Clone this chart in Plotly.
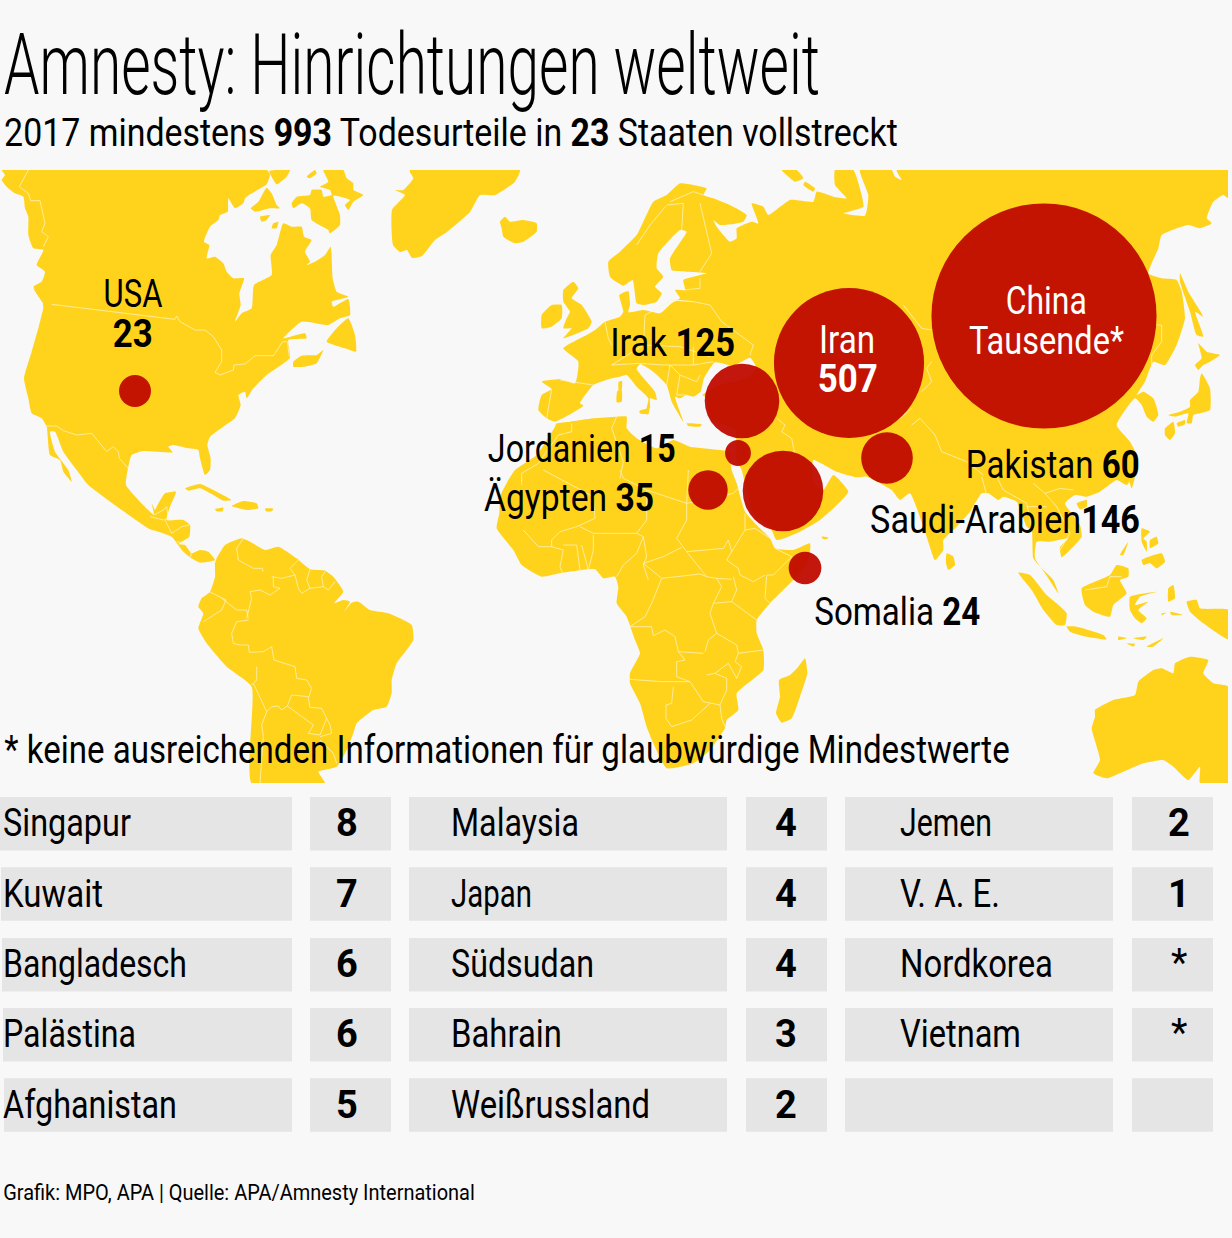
import json
import plotly.graph_objects as go

# ---------- data ----------
bubble_names = ["USA", "Irak", "Iran", "China", "Pakistan", "Jordanien", "Saudi-Arabien", "Ägypten", "Somalia"]
bubble_values = [23, 125, 507, 1140, 60, 15, 146, 35, 24]  # China: "Tausende", size
bubble_x = [135, 742, 849, 1044, 887, 738, 783, 708, 805]
bubble_y = [391, 401, 363, 316, 458, 453, 491, 490, 568]

col1_names = ["Singapur", "Kuwait", "Bangladesch", "Palästina", "Afghanistan"]
col1_values = ["8", "7", "6", "6", "5"]
col1_widths = [128, 100, 184, 133, 174]
col2_names = ["Malaysia", "Japan", "Südsudan", "Bahrain", "Weißrussland"]
col2_values = ["4", "4", "4", "3", "2"]
col2_widths = [128, 81, 143, 111, 199]
col3_names = ["Jemen", "V. A. E.", "Nordkorea", "Vietnam", ""]
col3_values = ["2", "1", "*", "*", ""]
col3_widths = [92, 100, 153, 121, 0]

TITLE = "Amnesty: Hinrichtungen weltweit"
SUBTITLE = "2017 mindestens <b>993</b> Todesurteile in <b>23</b> Staaten vollstreckt"
NOTE = "* keine ausreichenden Informationen für glaubwürdige Mindestwerte"
SOURCE = "Grafik: MPO, APA | Quelle: APA/Amnesty International"

# ---------- map outlines in crop coordinates ----------
def A(pts): return [(x / 3, 165 + y / 3) for x, y in pts]          # north america crop
def B(pts): return [(150 + x / 3, 470 + y / 3) for x, y in pts]    # south america crop
def C(pts): return [(480 + x / 3, 165 + y / 3) for x, y in pts]    # europe crop
def D(pts): return [(860 + x / 3, 165 + y / 3) for x, y in pts]    # east asia crop
def E(pts): return [(480 + x / 3, 470 + y / 3) for x, y in pts]    # africa crop
def F(pts): return [(860 + x / 3, 470 + y / 3) for x, y in pts]    # south east asia crop

north_america = A([(5,15),(800,15),(810,28),(800,58),(750,88),(735,100),(730,115),(705,130),(685,100),(683,140),(660,150),(655,165),(630,185),(612,230),(628,240),(620,280),(645,275),(670,295),(680,320),(700,340),(732,340),(718,385),(722,420),(705,470),(725,445),(755,430),(762,360),(815,330),(812,270),(830,240),(850,175),(875,185),(905,185),(912,215),(935,225),(915,260),(930,290),(920,300),(945,290),(975,270),(992,245),(998,340),(1010,380),(1045,395),(995,410),(1000,425),(1045,402),(1050,450),(1020,460),(985,480),(905,470),(850,520),(915,505),(920,520),(865,525),(870,578),(800,630),(760,670),(740,700),(735,680),(715,690),(722,720),(705,760),(670,785),(630,815),(622,840),(632,880),(630,915),(615,930),(600,880),(595,855),(565,850),(520,840),(505,845),(518,862),(430,858),(395,870),(385,905),(378,960)]) \
    + B([(12,135),(5,100),(15,120),(20,110),(45,70),(78,65),(60,110),(50,150),(100,150),(120,165),(118,200),(85,222),(105,225),(125,250),(150,240),(175,245),(195,270),(150,278),(125,265),(100,245),(65,200),(25,185),(0,178)]) \
    + A([(265,960),(230,915),(190,860),(165,800),(150,800),(165,860),(205,915),(215,950),(190,920),(180,885),(150,870),(140,785),(125,760),(95,745),(85,700),(72,640),(95,560),(115,490),(125,450),(130,430),(125,395),(100,365),(125,350),(135,320),(110,300),(130,255),(100,250),(85,210),(85,155),(75,130),(70,95),(45,85),(20,65),(5,45),(15,30)])
arctic_a = A([(970,15),(1030,15),(1040,40),(1060,55),(1060,75),(1090,90),(1060,110),(1045,135),(1035,120),(1050,105),(1000,92),(1020,150),(1020,180),(1010,190),(990,205),(975,155),(990,195),(935,165),(930,130),(905,115),(880,130),(875,115),(890,95),(930,90),(935,75),(965,75),(970,95),(995,90),(990,75),(960,65),(985,50)])
arctic_b = A([(752,130),(775,110),(800,68),(815,85),(830,120),(840,130),(810,130),(790,135),(765,140)])
arctic_c = A([(808,18),(870,15),(860,35),(830,58),(815,35)])
arctic_d = A([(920,35),(945,15),(950,25),(930,40)])
arctic_e = A([(740,55),(760,55),(770,75),(755,72)])
arctic_f = A([(780,155),(810,150),(800,165),(785,170)])
arctic_g = A([(820,175),(835,170),(830,190),(815,190)])
newfoundland = A([(1045,460),(1065,510),(1068,560),(1035,550),(980,530),(1010,490)])
nova_scotia = A([(880,590),(905,572),(950,570),(970,555),(950,595),(915,605),(880,605)])
vancouver = A([(100,370),(135,395),(148,425),(130,415)])
greenland = C([(-210,22),(-200,40),(-230,75),(-255,75),(-225,90),(-264,135),(-261,240),(-240,261),(-219,255),(-204,279),(-174,273),(-135,225),(-99,201),(-30,141),(0,90),(45,90),(105,50),(120,15),(-210,15)])
iceland = C([(60,170),(75,155),(90,170),(130,165),(170,175),(170,200),(130,230),(105,235),(70,215),(65,190)])
svalbard = C([(905,15),(950,15),(970,40),(945,50)])
zemlya = C([(975,50),(1005,70),(1000,80),(970,60)])
south_america = B([(200,265),(225,225),(275,205),(300,215),(345,240),(385,230),(440,265),(480,298),(525,302),(550,320),(580,365),(552,400),(580,390),(600,395),(582,425),(605,398),(625,395),(660,420),(715,430),(785,465),(790,510),(740,580),(725,630),(725,670),(710,710),(670,720),(620,760),(610,790),(590,840),(560,890),(505,905),(525,940),(305,940),(305,650),(230,590),(170,520),(145,475),(160,430),(145,410),(155,385),(180,365),(195,320),(195,280)])
cuba = B([(105,55),(150,42),(200,65),(245,90),(220,92),(190,75),(150,55),(115,62)])
hispaniola = B([(245,108),(280,93),(320,100),(325,115),(290,120)])
jamaica = B([(195,118),(220,113),(218,124),(200,124)])
puerto_rico = B([(345,116),(370,116),(365,124),(348,124)])
eurasia = C([(225,770),(200,760),(175,735),(185,690),(215,672),(185,650),(240,643),(285,655),(295,590),(250,550),(320,510),(345,495),(375,470),(420,455),(430,440),(418,390),(445,378),(450,420),(445,442),(490,435),(540,445),(575,415),(600,400),(585,375),(615,375),(610,345),(680,325),(620,320),(575,315),(570,280),(620,200),(600,195),(535,265),(530,310),(550,335),(525,365),(545,385),(530,410),(490,420),(470,415),(458,345),(430,362),(390,335),(385,290),(420,260),(470,210),(490,170),(520,110),(560,90),(600,55),(640,60),(680,70),(670,90),(700,100),(760,125),(800,150),(790,170),(720,180),(700,165),(710,185),(750,230),(770,220),(770,190),(815,170),(835,175),(815,115),(850,125),(865,150),(930,105),(1000,110),(1010,80),(1060,95),(1100,100),(1065,60),(1065,15),(1120,15),(1145,90),(1150,125),(1090,145),(1155,152),(1165,90),(1140,15)]) \
    + D([(95,15),(105,35),(125,45),(110,15),(1105,15),(1105,100),(1090,90),(1060,110),(1040,160),(1055,175),(1020,190),(985,180),(905,210),(895,250),(865,325),(905,340),(950,345),(965,380),(975,460),(950,540),(915,600),(880,590),(870,610),(855,650),(830,690),(850,680),(880,700),(895,750),(880,770),(860,755),(845,720),(825,700),(770,780),(810,830),(830,870),(825,920),(800,960)]) \
    + F([(770,30),(720,65),(680,80),(645,75),(615,100),(660,165),(665,200),(630,240),(605,262),(600,232),(625,205),(570,215),(530,215),(525,265),(555,310),(595,370),(580,330),(545,295),(520,265),(515,180),(500,170),(470,95),(430,80),(415,90),(385,70),(365,70),(330,125),(290,170),(250,210),(250,240),(225,270),(200,200),(150,70),(120,90),(95,60)]) \
    + E([(1160,20),(1130,22),(1070,5),(1000,-30),(1000,40),(1030,60),(1060,15),(1105,65),(1060,115),(1020,150),(960,185),(890,210),(870,170),(820,130),(795,40),(785,0),(770,-30)]) \
    + C([(765,795),(690,760),(680,700),(668,690),(720,660),(800,640),(830,610),(810,578),(760,602),(705,592),(672,640),(662,680),(640,695),(620,690),(600,700),(585,695),(610,770),(575,710),(560,660),(520,620),(480,597),(470,612),(525,680),(530,705),(510,700),(510,730),(498,740),(505,700),(470,665),(440,630),(420,635),(395,640),(340,660),(300,715),(310,722)])
britain = C([(250,375),(280,350),(295,370),(275,400),(305,420),(335,470),(325,490),(250,520),(275,490),(250,490),(260,460),(270,440),(250,410)])
ireland = C([(185,450),(215,420),(245,420),(245,460),(215,485),(185,490)])
sicily = C([(478,738),(508,730),(505,748),(480,745)])
sardinia = C([(412,678),(425,675),(425,710),(410,712)])
corsica = C([(416,650),(426,648),(424,680),(416,678)])
crete = C([(620,775),(665,778),(660,785),(625,783)])
africa = C([(230,775),(270,770),(340,760),(410,755),(440,755),(440,790),(470,820),(530,850),(580,825),(630,845),(720,855),(745,860)]) \
    + E([(755,0),(770,40),(795,125),(835,170),(870,205),(885,235),(940,240),(990,220),(990,245),(975,290),(930,340),(870,400),(830,450),(830,490),(850,540),(850,600),(770,670),(775,720),(740,750),(735,775),(690,840),(640,880),(560,895),(520,820),(500,770),(480,700),(450,640),(450,610),(480,550),(465,510),(440,440),(410,400),(415,350),(405,320),(370,325),(345,298),(240,310),(185,320),(125,285),(100,240),(50,175),(58,130),(60,80),(85,30),(105,0)]) \
    + C([(170,870),(225,785)])
madagascar = E([(975,565),(982,610),(960,680),(935,745),(905,758),(888,730),(900,680),(897,630),(930,615),(955,590)])
socotra = E([(1025,200),(1045,203),(1040,208),(1028,206)])
sri_lanka = F([(260,250),(280,260),(285,285),(265,300),(258,280)])
hainan = F([(650,100),(680,90),(680,110),(660,118)])
taiwan = F([(805,15),(825,15),(815,55)])
honshu = D([(1025,625),(1050,670),(1050,735),(1020,745),(1000,750),(995,775),(980,775),(985,745),(945,755),(925,750),(960,740),(990,725),(990,705),(1015,680),(1020,640)])
hokkaido = D([(1015,535),(1040,560),(1080,570),(1050,590),(1030,600),(1015,615),(1005,600),(1025,580)])
sakhalin = D([(960,325),(985,380),(1030,455),(1005,440),(1030,515),(1010,510),(990,440),(960,350)])
kyushu = D([(915,790),(940,770),(945,805),(930,825),(915,810)])
shikoku = D([(950,775),(975,765),(975,778),(955,785)])
sumatra = F([(475,308),(510,315),(560,375),(590,400),(620,430),(615,465),(590,465),(550,420),(515,360)])
java = F([(620,470),(650,470),(730,495),(740,508),(680,500),(630,485)])
sunda_a = F([(775,500),(800,505),(775,510)])
sunda_b = F([(820,505),(860,500),(850,510)])
timor = F([(860,530),(910,505),(880,530)])
sumba = F([(800,520),(825,522),(820,530)])
borneo = F([(665,355),(750,315),(770,285),(805,295),(805,320),(780,330),(800,370),(760,405),(750,440),(700,425),(675,405)])
sulawesi = F([(810,380),(890,365),(840,380),(825,405),(865,395),(835,420),(860,445),(845,460),(825,445),(810,420)])
luzon = F([(845,175),(870,185),(850,205),(860,215),(860,245),(845,215)])
mindanao = F([(845,270),(905,250),(915,275),(890,295),(870,280),(850,285)])
palawan = F([(780,255),(805,215),(790,255)])
visayas = F([(870,210),(890,200),(895,220),(870,235)])
new_guinea = F([(980,395),(1010,390),(1020,415),(1105,420),(1105,508),(1030,460),(990,425)])
halmahera = F([(925,355),(940,345),(945,385),(925,395)])
seram = F([(930,425),(970,435),(935,435)])
buru = F([(905,430),(918,428),(905,436)])
australia = F([(705,720),(760,690),(825,675),(835,635),(880,600),(905,595),(940,610),(945,580),(990,560),(1045,570),(1030,610),(1060,640),(1105,650),(1105,940),(1020,940),(1020,890),(985,930),(940,890),(910,870),(850,880),(790,905),(740,925),(700,910),(720,870),(695,775),(705,740)])

land = [north_america, arctic_a, arctic_b, arctic_c, arctic_d, arctic_e, arctic_f, arctic_g, newfoundland,
        nova_scotia, vancouver, greenland, iceland, svalbard, zemlya, south_america, cuba, hispaniola, jamaica,
        puerto_rico, eurasia, britain, ireland, sicily, sardinia, corsica, crete, africa, madagascar, socotra,
        sri_lanka, hainan, taiwan, honshu, hokkaido, sakhalin, kyushu, shikoku, sumatra, java, sunda_a, sunda_b,
        timor, sumba, borneo, sulawesi, luzon, mindanao, palawan, visayas, new_guinea, halmahera, seram, buru,
        australia]

borders = [
    A([(155,418),(525,463),(530,453),(540,470),(585,495),(615,495),(640,515),(665,555),(665,590),(645,622),(660,630),(700,615),(702,600),(735,597),(765,572),(820,572),(848,530),(862,530),(868,575)]),
    A([(85,15),(58,65),(85,85),(92,107),(120,107),(135,175),(125,200),(145,215),(130,245)]),
    A([(135,783),(170,783),(190,797),(230,810),(275,805),(320,860),(340,845),(355,860),(358,880),(385,910)]),
    B([(280,205),(260,235),(265,270),(310,295),(338,295),(338,305)]),
    B([(365,320),(395,325),(435,315),(420,295),(445,270)]),
    B([(435,315),(445,355),(455,370),(480,355),(470,330),(480,298)]),
    B([(480,355),(520,350),(515,320),(525,305)]),
    B([(520,350),(535,360),(555,335)]),
    B([(370,320),(370,350),(390,355),(360,375),(330,360),(300,365),(305,385),(290,445)]),
    B([(178,365),(215,385),(228,390),(215,420),(160,455)]),
    B([(215,385),(260,420),(290,420),(295,445)]),
    B([(295,450),(260,455),(245,490),(250,520),(270,525),(295,525),(298,547),(340,545),(365,530),(372,570),(435,590),(440,625),(470,630),(485,655),(475,685)]),
    B([(320,590),(320,630),(305,645)]),
    B([(310,640),(350,725),(335,765),(340,800),(330,940)]),
    B([(350,725),(365,710),(385,708),(395,720),(412,708),(425,675),(475,680)]),
    B([(412,708),(490,765),(475,790),(510,795),(530,745),(515,715),(480,712),(475,685)]),
    B([(510,800),(545,790),(540,765),(530,745)]),
    B([(510,810),(550,850),(560,880)]),
    B([(12,135),(40,120),(50,110),(55,145),(40,150),(0,140)]),
    B([(45,150),(65,190),(95,170),(118,165)]),
    B([(80,215),(110,220),(125,235),(122,262)]),
    E([(190,0),(300,60),(340,80),(345,145),(290,170),(240,185),(215,210),(215,230)]),
    E([(420,0),(430,25),(500,60),(620,100),(620,150),(590,205),(620,245),(680,320)]),
    E([(620,100),(760,70),(775,55)]),
    E([(620,100),(625,0)]),
    E([(500,60),(500,150),(470,190),(340,190),(300,170)]),
    E([(605,232),(550,260),(490,280),(545,325),(590,320),(660,312),(680,320),(710,325),(755,328)]),
    E([(470,190),(490,200),(500,260),(490,285),(505,330)]),
    E([(620,245),(690,240),(730,235),(745,210),(755,245),(740,270),(775,295),(780,315),(820,335),(855,315)]),
    E([(795,130),(795,180),(755,245)]),
    E([(795,180),(825,175),(870,205)]),
    E([(885,235),(935,260),(880,315),(860,315),(855,385),(870,400)]),
    E([(755,395),(830,450)]),
    E([(760,320),(770,360),(755,395),(700,400),(725,350),(710,325)]),
    E([(545,325),(515,400),(495,440),(450,470),(515,470),(520,497),(555,480),(585,500),(595,545),(670,550)]),
    E([(700,400),(690,430),(710,490),(685,510),(675,545)]),
    E([(710,490),(770,525),(775,550),(850,540)]),
    E([(595,545),(615,570),(590,575),(590,620),(630,635),(545,635),(450,628)]),
    E([(630,635),(670,695),(720,705),(740,660),(740,625),(705,610),(680,615)]),
    E([(705,610),(745,580),(770,625),(785,590),(765,575),(775,550)]),
    E([(580,650),(575,700),(558,705),(558,745),(575,770),(635,750),(690,700)]),
    E([(720,705),(725,745),(735,770)]),
    E([(130,180),(175,230),(215,230),(250,240),(240,290),(250,315)]),
    E([(250,225),(290,225),(300,300)]),
    E([(305,225),(325,300)]),
    E([(340,195),(340,240),(325,300)]),
    E([(410,320),(430,285),(470,250),(490,200)]),
    C([(275,775),(275,800),(235,810),(175,895),(125,925),(125,960)]),
    C([(410,755),(395,790),(430,890),(420,940)]),
    C([(890,760),(915,780),(905,800),(935,820),(945,870)]),
    C([(660,115),(680,200),(695,265),(660,320)]),
    C([(470,240),(510,180),(560,120),(610,115),(605,195)]),
    C([(570,110),(640,80),(670,90)]),
    C([(610,375),(660,370),(660,340)]),
    C([(575,405),(640,410)]),
    C([(495,450),(580,405),(640,410),(690,420),(725,470),(820,540),(810,570)]),
    C([(375,470),(385,520),(395,540)]),
    C([(240,645),(340,660)]),
    C([(215,672),(200,760)]),
    C([(395,600),(480,595),(550,600),(640,600),(700,590)]),
    C([(560,660),(570,600),(600,630),(650,650),(660,630)]),
    C([(495,450),(490,540),(395,600)]),
    C([(600,630),(590,690),(620,690)]),
    C([(490,540),(600,545),(690,575)]),
    C([(640,600),(640,545)]),
    D([(130,420),(185,490),(215,495)]),
    D([(215,590),(200,610),(215,650),(185,680)]),
    D([(155,730),(120,760)]),
    D([(155,780),(180,760),(225,810),(245,860),(320,890),(370,930)]),
    F([(365,20),(380,75)]),
    F([(410,20),(430,60),(500,100),(515,170)]),
    F([(520,40),(555,70),(600,55),(640,60)]),
    F([(555,70),(590,110),(630,190),(600,240)]),
    F([(500,110),(560,110)]),
    F([(675,360),(740,350),(750,320),(785,320)]),
    F([(540,290),(560,300)]),
    D([(885,480),(905,480),(905,530),(875,570),(875,600)]),
]

# ---------- style ----------
BG = "#f8f8f8"
YELLOW = "#ffd31c"
RED = "#c00a00"
GREY = "#e5e5e5"
FONT = "Roboto, sans-serif"

def flat(polys):
    xs, ys = [], []
    for p in polys:
        xs += [q[0] for q in p] + [None]
        ys += [q[1] for q in p] + [None]
    return xs, ys

fig = go.Figure()
lx, ly = flat([p + [p[0]] for p in land])
fig.add_trace(go.Scatter(x=lx, y=ly, mode="lines", fill="toself", fillcolor=YELLOW,
                         line=dict(width=0, color=YELLOW, shape="spline", smoothing=0.45),
                         hoverinfo="skip", showlegend=False))
bx, by = flat(borders)
fig.add_trace(go.Scatter(x=bx, y=by, mode="lines", line=dict(width=0.8, color="rgba(255,245,200,0.9)"),
                         hoverinfo="skip", showlegend=False))

# frame of the map: the land is cut off square at these edges
shapes = []
for x0, x1, y0, y1 in [(0, 1232, 140, 170), (0, 1232, 783, 796), (1228, 1232, 170, 783), (0, 1, 170, 783)]:
    shapes.append(dict(type="rect", xref="x", yref="y", layer="above", x0=x0, x1=x1, y0=y0, y1=y1,
                       fillcolor=BG, line=dict(width=0)))

fig.add_trace(go.Scatter(x=bubble_x, y=bubble_y, mode="markers", text=bubble_names,
                         marker=dict(size=bubble_values, sizemode="area", sizeref=0.045, color=RED,
                                     opacity=0.95, line=dict(width=0)),
                         hovertemplate="%{text}: %{marker.size}<extra></extra>", showlegend=False))

ann = []
widths = []
def txt(x, y, s, size, color="#000", anchor="left", w=None, weight=None):
    f = dict(family=FONT, size=size, color=color)
    if weight:
        f["weight"] = weight
    ann.append(dict(x=x - 2 if anchor == "left" else x, y=y, xref="x", yref="y", text=s, showarrow=False,
                    xanchor=anchor, yanchor="middle", font=f, align="center"))
    widths.append([w, anchor])

txt(4, 64, TITLE, 86, w=816, weight=300)
txt(4, 132.5, SUBTITLE, 38, w=894)
txt(4, 750, NOTE, 38, w=1006)
txt(3, 1192, SOURCE, 22, w=472)

LBL = 38
txt(133, 294, "USA", LBL, anchor="center", w=59)
txt(133, 333.5, "<b>23</b>", LBL, anchor="center", w=40)
txt(672.5, 342.5, "Irak <b>125</b>", LBL, anchor="center", w=125)
txt(847, 339.5, "Iran", LBL, "#fff", "center", w=56)
txt(847, 378.5, "<b>507</b>", LBL, "#fff", "center", w=60)
txt(1046, 300.5, "China", LBL, "#fff", "center", w=81)
txt(1046, 340.5, "Tausende*", LBL, "#fff", "center", w=155)
txt(1053, 464.5, "Pakistan <b>60</b>", LBL, anchor="center", w=174)
txt(582, 448.5, "Jordanien <b>15</b>", LBL, anchor="center", w=188)
txt(569, 497.5, "Ägypten <b>35</b>", LBL, anchor="center", w=170)
txt(1005, 519.5, "Saudi-Arabien<b>146</b>", LBL, anchor="center", w=270)
txt(897, 611.5, "Somalia <b>24</b>", LBL, anchor="center", w=166)

row_top = [797, 867.3, 938, 1008, 1078.3]
ROW_H = 53.5
cells = [(None, 292), (310, 391), (409, 727), (746, 827), (845, 1113), (1132, 1213)]
for r, top in enumerate(row_top):
    for c, (x0, x1) in enumerate(cells):
        shapes.append(dict(type="rect", xref="x", yref="y", layer="below", x0=(r if x0 is None else x0), x1=x1,
                           y0=top, y1=top + ROW_H, fillcolor=GREY, line=dict(width=0)))

TBL = 38
columns = [(col1_names, col1_values, col1_widths, 3, 347),
           (col2_names, col2_values, col2_widths, 451, 786),
           (col3_names, col3_values, col3_widths, 900, 1179)]
for names, values, ws, nx, vx in columns:
    for top, n, v, w in zip(row_top, names, values, ws):
        mid = top + ROW_H / 2 - 0.5
        if n:
            txt(nx, mid, n, TBL, w=w)
        if v:
            if v == "*":
                txt(vx, mid - 1, v, TBL, anchor="center")
            else:
                txt(vx, mid, f"<b>{v}</b>", TBL, anchor="center")

fig.update_layout(
    width=1232, height=1238, autosize=False, margin=dict(l=0, r=0, t=0, b=0),
    paper_bgcolor=BG, plot_bgcolor=BG, showlegend=False,
    xaxis=dict(range=[0, 1232], visible=False, fixedrange=True),
    yaxis=dict(range=[1238, 0], visible=False, fixedrange=True),
    shapes=shapes, annotations=ann,
)

# The reference face is a condensed one: squeeze each real text to its measured width.
squeeze = """
document.body.style.margin='0';document.body.style.overflow='hidden';
const spec = %s;
document.querySelectorAll('.annotation').forEach(function(a){
  const s = spec[+a.getAttribute('data-index')];
  const t = a.querySelector('text');
  if(!t || !s[0]) return;
  const b = t.getBBox();
  const f = s[0] / b.width;
  const ax = s[1] === 'left' ? b.x : b.x + b.width / 2;
  t.setAttribute('transform', 'translate(' + ax + ' 0) scale(' + f + ' 1) translate(' + (-ax) + ' 0)');
});
""" % json.dumps(widths)
fig.write_html("out.html", config=dict(displayModeBar=False), post_script=squeeze)
